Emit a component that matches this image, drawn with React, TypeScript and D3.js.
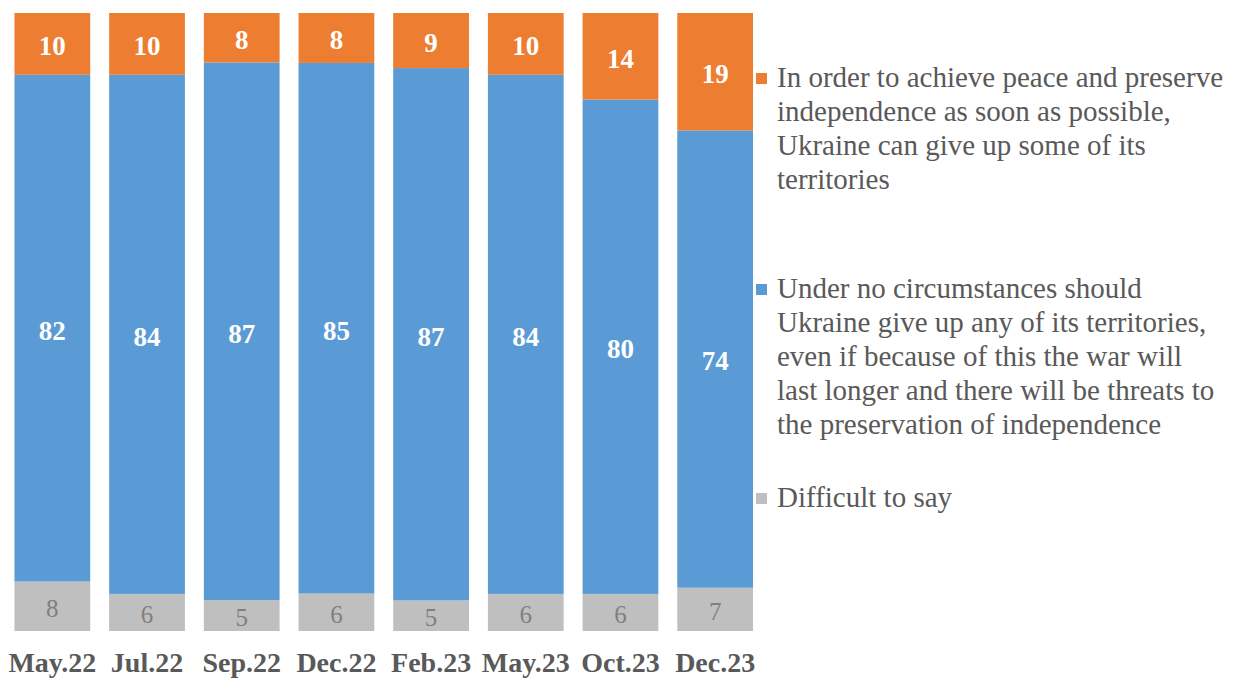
import React, { useEffect, useRef } from 'react'
import * as d3 from 'd3'

const periods = ['May.22', 'Jul.22', 'Sep.22', 'Dec.22', 'Feb.23', 'May.23', 'Oct.23', 'Dec.23']
const giveUp = [10, 10, 8, 8, 9, 10, 14, 19]
const noGiveUp = [82, 84, 87, 85, 87, 84, 80, 74]
const difficult = [8, 6, 5, 6, 5, 6, 6, 7]

const seriesKeys = ['difficult', 'noGiveUp', 'giveUp']
const seriesColors = { giveUp: '#ED7D31', noGiveUp: '#5B9BD5', difficult: '#BFBFBF' }
const labelColors = { giveUp: '#ffffff', noGiveUp: '#ffffff', difficult: '#7F7F7F' }

const legendItems = [
  {
    key: 'giveUp',
    lines: [
      'In order to achieve peace and preserve',
      'independence as soon as possible,',
      'Ukraine can give up some of its',
      'territories',
    ],
  },
  {
    key: 'noGiveUp',
    lines: [
      'Under no circumstances should',
      'Ukraine give up any of its territories,',
      'even if because of this the war will',
      'last longer and there will be threats to',
      'the preservation of independence',
    ],
  },
  { key: 'difficult', lines: ['Difficult to say'] },
]
const legendTop = [87, 298, 507]

const W = 1240
const H = 686
const FONT = '"Times New Roman", "Liberation Serif", serif'

const App = () => {
  const ref = useRef(null)

  useEffect(() => {
    const svg = d3.select(ref.current)
    svg.selectAll('*').remove()

    const rows = periods.map((p, i) => ({
      period: p,
      giveUp: giveUp[i],
      noGiveUp: noGiveUp[i],
      difficult: difficult[i],
    }))

    // shares are normalised per bar (some rows add up to 99 or 101)
    const stacked = d3.stack().keys(seriesKeys).offset(d3.stackOffsetExpand)(rows)

    const x = d3
      .scaleBand()
      .domain(periods)
      .range([5, 762.5])
      .paddingInner(0.2)
      .paddingOuter(0.1)

    const y = d3.scaleLinear().domain([0, 1]).range([631, 13])

    const layers = svg
      .append('g')
      .selectAll('g')
      .data(stacked)
      .join('g')
      .attr('fill', d => seriesColors[d.key])

    layers // bars
      .selectAll('rect')
      .data(d => d)
      .join('rect')
      .attr('x', d => x(d.data.period))
      .attr('y', d => y(d[1]))
      .attr('width', x.bandwidth())
      .attr('height', d => y(d[0]) - y(d[1]))

    layers // value labels
      .append('g')
      .selectAll('text')
      .data(d => d.map(v => ({ v, key: d.key })))
      .join('text')
      .attr('x', d => x(d.v.data.period) + x.bandwidth() / 2)
      .attr('y', d => (y(d.v[0]) + y(d.v[1])) / 2)
      .attr('dy', '0.42em')
      .attr('text-anchor', 'middle')
      .style('font-family', FONT)
      .attr('font-size', d => (d.key === 'difficult' ? 25 : 27))
      .attr('font-weight', d => (d.key === 'difficult' ? 'normal' : 'bold'))
      .attr('fill', d => labelColors[d.key])
      .text(d => d.v.data[d.key])

    const xAxis = svg
      .append('g')
      .attr('transform', 'translate(0, 631)')
      .call(d3.axisBottom(x).tickSize(0).tickPadding(0))
    xAxis.select('.domain').remove()
    xAxis
      .selectAll('text')
      .attr('y', 41)
      .attr('dy', 0)
      .style('font-family', FONT)
      .attr('font-size', 28)
      .attr('font-weight', 'bold')
      .attr('fill', '#595959')

    const legend = svg
      .append('g')
      .selectAll('g')
      .data(legendItems)
      .join('g')
      .attr('transform', (d, i) => `translate(756, ${legendTop[i]})`)

    legend
      .append('rect')
      .attr('x', 0)
      .attr('y', -14)
      .attr('width', 11)
      .attr('height', 11)
      .attr('fill', d => seriesColors[d.key])

    legend
      .append('text')
      .style('font-family', FONT)
      .attr('font-size', 29)
      .attr('fill', '#595959')
      .selectAll('tspan')
      .data(d => d.lines)
      .join('tspan')
      .attr('x', 21)
      .attr('y', (d, i) => i * 34)
      .text(d => d)
  }, [])

  return (
    <svg
      ref={ref}
      width={W}
      height={H}
      style={{ position: 'absolute', left: 0, top: 0, background: '#fff' }}
    />
  )
}

export default App
